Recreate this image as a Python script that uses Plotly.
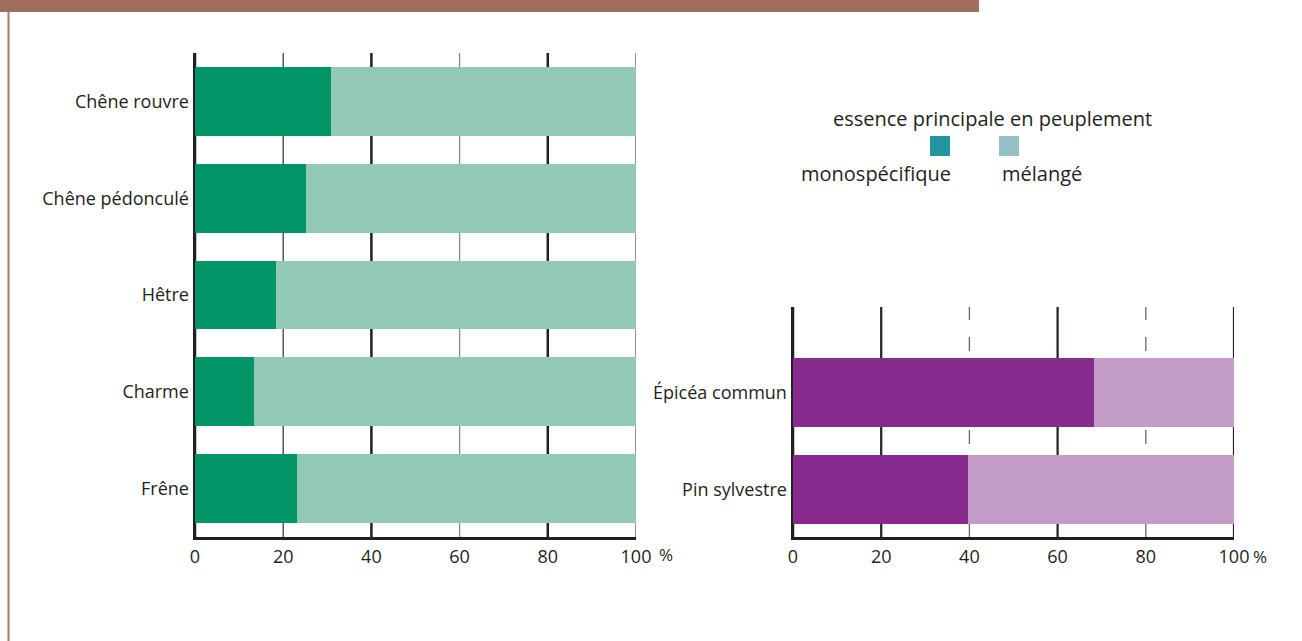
import plotly.graph_objects as go

# Data
feuillus = ["Chêne rouvre", "Chêne pédonculé", "Hêtre", "Charme", "Frêne"]
feuillus_mono = [30.8, 25.2, 18.4, 13.4, 23.1]
feuillus_melange = [69.2, 74.8, 81.6, 86.6, 76.9]

resineux = ["Pin sylvestre", "Épicéa commun"]
resineux_mono = [39.7, 68.3]
resineux_melange = [60.3, 31.7]

tick_vals = [0, 20, 40, 60, 80, 100]
tick_text = ["0", "20", "40", "60", "80", "100"]

legend_title = "essence principale en peuplement"
legend_labels = ["monospécifique", "mélangé"]
legend_colors = ["#2196A0", "#97C1C9"]

FONT = "Open Sans"
TXT = "#231F20"
W, H = 1302, 641

fig = go.Figure()
fig.add_trace(go.Bar(y=feuillus, x=feuillus_mono, orientation="h",
                     marker=dict(color="#009466", line=dict(width=0)),
                     width=0.71, xaxis="x", yaxis="y", showlegend=False))
fig.add_trace(go.Bar(y=feuillus, x=feuillus_melange, orientation="h",
                     marker=dict(color="#92C9B5", line=dict(width=0)),
                     width=0.71, xaxis="x", yaxis="y", showlegend=False))
fig.add_trace(go.Bar(y=resineux, x=resineux_mono, orientation="h",
                     marker=dict(color="#862A8E", line=dict(width=0)),
                     width=0.71, xaxis="x2", yaxis="y2", showlegend=False))
fig.add_trace(go.Bar(y=resineux, x=resineux_melange, orientation="h",
                     marker=dict(color="#C39DC8", line=dict(width=0)),
                     width=0.71, xaxis="x2", yaxis="y2", showlegend=False))

def px_x(p):
    return p / W

def px_y(p):
    return 1 - p / H

axis_common = dict(range=[0, 100], tickvals=tick_vals, ticktext=tick_text,
                   showgrid=False, zeroline=False, showline=True,
                   linecolor=TXT, linewidth=3, ticks="", automargin=False,
                   tickfont=dict(family=FONT, size=18, color=TXT),
                   ticklabelstandoff=1, fixedrange=True)

fig.update_layout(
    width=W, height=H, autosize=False,
    margin=dict(l=0, r=0, t=0, b=0),
    paper_bgcolor="white", plot_bgcolor="rgba(0,0,0,0)",
    barmode="stack", bargap=0.29,
    xaxis=dict(domain=[px_x(195), px_x(636)], anchor="y", **axis_common),
    xaxis2=dict(domain=[px_x(793), px_x(1234)], anchor="y2", **axis_common),
    yaxis=dict(domain=[px_y(537), px_y(53)], anchor="x",
               categoryorder="array", categoryarray=feuillus[::-1],
               range=[-0.5, 4.5], showgrid=False, zeroline=False,
               showline=True, linecolor=TXT, linewidth=2.5, ticks="",
               ticklabelstandoff=0, fixedrange=True, automargin=False,
               tickfont=dict(family=FONT, size=18, color=TXT)),
    yaxis2=dict(domain=[px_y(537), px_y(307)], anchor="x2",
                categoryorder="array", categoryarray=resineux,
                range=[-0.49, 1.88], showgrid=False, zeroline=False,
                showline=True, linecolor=TXT, linewidth=2.5, ticks="",
                ticklabelstandoff=0, fixedrange=True, automargin=False,
                tickfont=dict(family=FONT, size=18, color=TXT)),
)

shapes = []
# left chart gridlines
left_styles = {0: (TXT, 2.5, "solid"), 20: ("#3a3a3a", 1.3, "solid"),
               40: (TXT, 2.5, "solid"), 60: ("#8a8a8a", 1.3, "solid"),
               80: (TXT, 2.5, "solid"), 100: ("#777777", 1.6, "solid")}
for v in tick_vals:
    c, w, d = left_styles[v]
    shapes.append(dict(type="line", xref="x", yref="y domain", x0=v, x1=v,
                       y0=0, y1=1, layer="below",
                       line=dict(color=c, width=w, dash=d)))
right_styles = {0: (TXT, 2.5, "solid"), 20: (TXT, 2.2, "solid"),
                40: ("#666666", 1.3, "14px,17px"), 60: (TXT, 2.2, "solid"),
                80: ("#666666", 1.3, "14px,17px"), 100: (TXT, 2.2, "solid")}
for v in tick_vals:
    c, w, d = right_styles[v]
    shapes.append(dict(type="line", xref="x2", yref="y2 domain", x0=v, x1=v,
                       y0=0, y1=1, layer="below",
                       line=dict(color=c, width=w, dash=d)))

# header bar and left frame line
shapes.append(dict(type="rect", xref="paper", yref="paper",
                   x0=0, x1=px_x(979), y0=px_y(12), y1=1.0,
                   fillcolor="#A06E5C", line=dict(width=0), layer="above"))
shapes.append(dict(type="line", xref="paper", yref="paper",
                   x0=px_x(8.5), x1=px_x(8.5), y0=0, y1=px_y(12),
                   line=dict(color="#A8786A", width=2)))

# legend squares
for i, col in enumerate(legend_colors):
    cx = [940, 1009][i]
    shapes.append(dict(type="rect", xref="paper", yref="paper",
                       x0=px_x(cx - 10), x1=px_x(cx + 10),
                       y0=px_y(156), y1=px_y(136),
                       fillcolor=col, line=dict(width=0)))
fig.update_layout(shapes=shapes)

annotations = [
    dict(text=legend_title, xref="paper", yref="paper",
         x=px_x(992), y=px_y(118), xanchor="center", yanchor="middle",
         showarrow=False, font=dict(family=FONT, size=20, color=TXT)),
    dict(text=legend_labels[0], xref="paper", yref="paper",
         x=px_x(876), y=px_y(174), xanchor="center", yanchor="middle",
         showarrow=False, font=dict(family=FONT, size=20, color=TXT)),
    dict(text=legend_labels[1], xref="paper", yref="paper",
         x=px_x(1042), y=px_y(174), xanchor="center", yanchor="middle",
         showarrow=False, font=dict(family=FONT, size=20, color=TXT)),
    dict(text="%", xref="paper", yref="paper",
         x=px_x(657), y=px_y(554), xanchor="left", yanchor="middle",
         showarrow=False, font=dict(family=FONT, size=17, color=TXT)),
    dict(text="%", xref="paper", yref="paper",
         x=px_x(1251), y=px_y(556), xanchor="left", yanchor="middle",
         showarrow=False, font=dict(family=FONT, size=17, color=TXT)),
]
fig.update_layout(annotations=annotations)

fig.write_html("out.html",
               config={"responsive": False, "displayModeBar": False,
                       "staticPlot": True},
               default_width="1302px", default_height="641px",
               post_script="document.body.style.margin='0';"
                           "document.body.style.padding='0';"
                           "document.body.style.overflow='hidden';"
                           "document.documentElement.style.overflow='hidden';")
